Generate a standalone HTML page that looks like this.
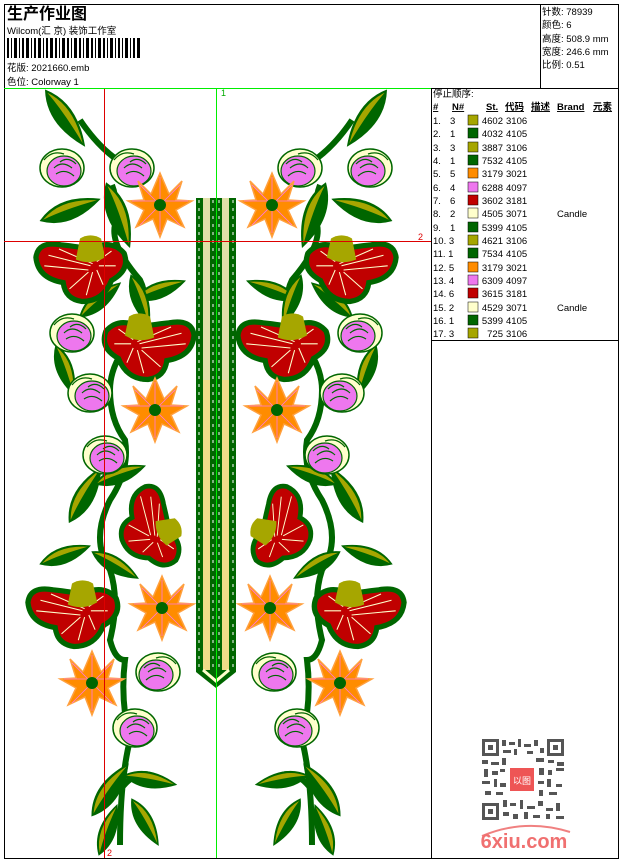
<!DOCTYPE html>
<html><head><meta charset="utf-8"><style>
body{margin:0;background:#fff;width:620px;height:860px;overflow:hidden;font-family:"Liberation Sans","Noto Sans CJK SC",sans-serif;}
</style></head><body>
<svg width="620" height="860" viewBox="0 0 620 860" xmlns="http://www.w3.org/2000/svg" font-family="Liberation Sans, Noto Sans CJK SC, sans-serif">
<defs>
<g id="rose">
 <ellipse cx="0" cy="0" rx="22" ry="19" fill="#ffffcc" stroke="#006600" stroke-width="1.5"/>
 <ellipse cx="2" cy="3" rx="17" ry="15" fill="#ee77ee" stroke="#006600" stroke-width="1.2"/>
 <path d="M-8,0 Q0,-8 10,0 M-6,6 Q3,0 12,8 M-2,-6 Q6,-12 14,-4 M-18,-8 Q-10,-18 2,-14" fill="none" stroke="#006600" stroke-width="1.2"/>
</g>
<g id="star">
 <polygon points="0,-32 9,-11 22,-24 16,-5 32,-4 16,5 24,22 7,14 0,32 -7,14 -24,22 -16,5 -32,-4 -16,-5 -22,-24 -9,-11" fill="#ff8c00" stroke="#ffa040" stroke-width="1.5"/>
 <circle r="14" fill="#ff8c00"/>
 <path d="M0,-28 L0,28 M-28,-4 L28,-4 M-20,-20 L20,20 M20,-20 L-20,20" stroke="#ff77dd" stroke-width="0.8"/>
 <circle r="6" fill="#006600"/>
</g>
<g id="redf">
 <path d="M-42,-12 Q-40,-28 -18,-24 Q0,-22 10,-20 Q30,-30 42,-16 Q48,0 30,10 Q22,30 2,30 Q-14,28 -16,12 Q-40,8 -42,-12 Z" fill="#c00000" stroke="#006600" stroke-width="5"/>
 <path d="M-30,-14 L10,-4 M-20,-20 L12,-6 M-34,-4 L8,0 M-10,18 L8,2 M6,24 L12,2 M22,14 L16,0 M34,-4 L18,-4 M30,-18 L16,-8" stroke="#ffffcc" stroke-width="1"/>
 <path d="M0,-30 Q10,-36 20,-30 L24,-12 Q10,-4 -4,-10 Z" fill="#a6a600"/>
</g>
<g id="leaf">
 <path d="M-24,0 Q-4,-14 24,0 Q-4,14 -24,0 Z" fill="#006600" stroke="#006600"/>
 <path d="M-22,0 Q-4,-11 22,0 Q-4,-2 -22,0 Z" fill="#a6a600"/>
</g>
<g id="half">
 <path d="M80,120 Q100,150 125,165 M112,185 Q118,200 115,225 Q110,245 140,280 Q150,300 140,330 M140,330 Q110,360 110,390 Q110,420 125,440 Q130,470 110,500 Q90,540 110,570 Q120,600 110,640 Q115,660 125,660 Q120,700 130,740 Q120,780 120,845 M120,790 Q135,770 150,775" fill="none" stroke="#006600" stroke-width="6"/>
 <use href="#leaf" transform="translate(65,118) rotate(55) scale(1.4,1.3)"/>
 <use href="#leaf" transform="translate(70,210) rotate(-20) scale(1.3)"/>
 <use href="#leaf" transform="translate(118,215) rotate(70) scale(1.4)"/>
 <use href="#leaf" transform="translate(160,290) rotate(-20) scale(1.1)"/>
 <use href="#leaf" transform="translate(140,300) rotate(70) scale(1.1)"/>
 <use href="#leaf" transform="translate(100,300) rotate(-40) scale(1.1)"/>
 <use href="#leaf" transform="translate(65,370) rotate(70) scale(1.1)"/>
 <use href="#leaf" transform="translate(85,495) rotate(-60) scale(1.3)"/>
 <use href="#leaf" transform="translate(120,475) rotate(-20) scale(1.1)"/>
 <use href="#leaf" transform="translate(65,555) rotate(-20) scale(1.1)"/>
 <use href="#leaf" transform="translate(115,565) rotate(30) scale(1.1)"/>
 <use href="#leaf" transform="translate(110,790) rotate(-55) scale(1.3)"/>
 <use href="#leaf" transform="translate(150,780) rotate(10) scale(1.1)"/>
 <use href="#leaf" transform="translate(145,822) rotate(60) scale(1.1)"/>
 <use href="#leaf" transform="translate(108,830) rotate(-70) scale(1.1)"/>
 <use href="#rose" transform="translate(62,168)"/>
 <use href="#rose" transform="translate(132,168)"/>
 <use href="#star" transform="translate(160,205)"/>
 <use href="#redf" transform="translate(80,270) scale(1.05)"/>
 <use href="#rose" transform="translate(72,333)"/>
 <use href="#redf" transform="translate(150,348) scale(-1.05,1.05)"/>
 <use href="#rose" transform="translate(90,393)"/>
 <use href="#star" transform="translate(155,410)"/>
 <use href="#rose" transform="translate(105,455)"/>
 <use href="#redf" transform="translate(148,528) rotate(70) scale(0.95)"/>
 <use href="#redf" transform="translate(72,615) scale(1.05)"/>
 <use href="#star" transform="translate(162,608)"/>
 <use href="#star" transform="translate(92,683)"/>
 <use href="#rose" transform="translate(158,672) scale(-1,1)"/>
 <use href="#rose" transform="translate(135,728)"/>
</g>
</defs>
<rect x="4.5" y="4.5" width="614" height="854" fill="none" stroke="#000"/>
<line x1="4" y1="88.5" x2="619" y2="88.5" stroke="#000"/>
<line x1="540.5" y1="4" x2="540.5" y2="88" stroke="#000"/>
<line x1="431.5" y1="88" x2="431.5" y2="858" stroke="#000"/>
<line x1="432" y1="340.5" x2="619" y2="340.5" stroke="#000"/>
<text x="7" y="19" font-size="16" font-weight="bold">生产作业图</text>
<text x="7" y="34" font-size="9.5">Wilcom(汇 京) 装饰工作室</text>
<g fill="#000">
<rect x="7" y="38" width="2" height="20"/><rect x="11" y="38" width="1" height="20"/><rect x="14" y="38" width="3" height="20"/><rect x="19" y="38" width="1" height="20"/><rect x="22" y="38" width="2" height="20"/><rect x="26" y="38" width="3" height="20"/><rect x="31" y="38" width="1" height="20"/><rect x="34" y="38" width="2" height="20"/><rect x="38" y="38" width="3" height="20"/><rect x="43" y="38" width="1" height="20"/><rect x="46" y="38" width="2" height="20"/><rect x="50" y="38" width="3" height="20"/><rect x="55" y="38" width="2" height="20"/><rect x="59" y="38" width="1" height="20"/><rect x="62" y="38" width="3" height="20"/><rect x="67" y="38" width="2" height="20"/><rect x="71" y="38" width="1" height="20"/><rect x="74" y="38" width="3" height="20"/><rect x="79" y="38" width="2" height="20"/><rect x="83" y="38" width="1" height="20"/><rect x="86" y="38" width="3" height="20"/><rect x="91" y="38" width="2" height="20"/><rect x="95" y="38" width="1" height="20"/><rect x="98" y="38" width="3" height="20"/><rect x="103" y="38" width="2" height="20"/><rect x="107" y="38" width="1" height="20"/><rect x="110" y="38" width="3" height="20"/><rect x="115" y="38" width="1" height="20"/><rect x="118" y="38" width="2" height="20"/><rect x="122" y="38" width="1" height="20"/><rect x="125" y="38" width="3" height="20"/><rect x="130" y="38" width="1" height="20"/><rect x="133" y="38" width="2" height="20"/><rect x="137" y="38" width="3" height="20"/>
</g>
<text x="7" y="71" font-size="9.5">花版: 2021660.emb</text>
<text x="7" y="85" font-size="9.5">色位:  Colorway 1</text>
<g font-size="9.5">
<text x="542" y="15">针数: 78939</text>
<text x="542" y="28">颜色: 6</text>
<text x="542" y="42">高度: 508.9 mm</text>
<text x="542" y="55">宽度: 246.6 mm</text>
<text x="542" y="68">比例: 0.51</text>
</g>
<use href="#half"/>
<use href="#half" transform="translate(432,0) scale(-1,1)"/>
<path d="M196,198 H236 V672 L216,688 L196,672 Z" fill="#006600"/>
<rect x="203" y="198" width="7" height="470" fill="#e0e0a8"/>
<rect x="222" y="198" width="7" height="470" fill="#e0e0a8"/>
<rect x="203" y="380" width="7" height="290" fill="#eedd88"/>
<rect x="222" y="380" width="7" height="290" fill="#eedd88"/>
<path d="M199,200 V668 M233,200 V668 M213,200 V668 M219,200 V668" stroke="#fff" stroke-width="1" stroke-dasharray="3,5"/>
<path d="M203,670 L216,681 L229,670" fill="none" stroke="#ffffcc" stroke-width="3"/>
<line x1="4" y1="88.5" x2="431" y2="88.5" stroke="#00ee00"/>
<line x1="216.5" y1="88" x2="216.5" y2="858" stroke="#00ee00"/>
<line x1="104.5" y1="89" x2="104.5" y2="858" stroke="#dd0000"/>
<line x1="4" y1="241.5" x2="431" y2="241.5" stroke="#dd0000"/>
<text x="221" y="96" font-size="9" fill="#00aa00">1</text>
<text x="418" y="240" font-size="9" fill="#dd0000">2</text>
<text x="107" y="856" font-size="9" fill="#dd0000">2</text>
<g font-size="9.5">
<text x="433" y="97">停止顺序:</text>
<g font-weight="bold" text-decoration="underline">
<text x="433" y="110">#</text><text x="452" y="110">N#</text><text x="486" y="110">St.</text><text x="505" y="110">代码</text><text x="531" y="110">描述</text><text x="557" y="110">Brand</text><text x="593" y="110">元素</text>
</g>
</g>
<g font-size="9.5">
<text x="433" y="124">1.</text><text x="450" y="124">3</text><rect x="468" y="115" width="10" height="10" fill="#a6a600" stroke="#000" stroke-width=".5"/><text x="503" y="124" text-anchor="end">4602</text><text x="506" y="124">3106</text>
<text x="433" y="137">2.</text><text x="450" y="137">1</text><rect x="468" y="128" width="10" height="10" fill="#006600" stroke="#000" stroke-width=".5"/><text x="503" y="137" text-anchor="end">4032</text><text x="506" y="137">4105</text>
<text x="433" y="151">3.</text><text x="450" y="151">3</text><rect x="468" y="142" width="10" height="10" fill="#a6a600" stroke="#000" stroke-width=".5"/><text x="503" y="151" text-anchor="end">3887</text><text x="506" y="151">3106</text>
<text x="433" y="164">4.</text><text x="450" y="164">1</text><rect x="468" y="155" width="10" height="10" fill="#006600" stroke="#000" stroke-width=".5"/><text x="503" y="164" text-anchor="end">7532</text><text x="506" y="164">4105</text>
<text x="433" y="177">5.</text><text x="450" y="177">5</text><rect x="468" y="168" width="10" height="10" fill="#ff8c00" stroke="#000" stroke-width=".5"/><text x="503" y="177" text-anchor="end">3179</text><text x="506" y="177">3021</text>
<text x="433" y="191">6.</text><text x="450" y="191">4</text><rect x="468" y="182" width="10" height="10" fill="#ee77ee" stroke="#000" stroke-width=".5"/><text x="503" y="191" text-anchor="end">6288</text><text x="506" y="191">4097</text>
<text x="433" y="204">7.</text><text x="450" y="204">6</text><rect x="468" y="195" width="10" height="10" fill="#c00000" stroke="#000" stroke-width=".5"/><text x="503" y="204" text-anchor="end">3602</text><text x="506" y="204">3181</text>
<text x="433" y="217">8.</text><text x="450" y="217">2</text><rect x="468" y="208" width="10" height="10" fill="#ffffcc" stroke="#000" stroke-width=".5"/><text x="503" y="217" text-anchor="end">4505</text><text x="506" y="217">3071</text><text x="557" y="217">Candle</text>
<text x="433" y="231">9.</text><text x="450" y="231">1</text><rect x="468" y="222" width="10" height="10" fill="#006600" stroke="#000" stroke-width=".5"/><text x="503" y="231" text-anchor="end">5399</text><text x="506" y="231">4105</text>
<text x="433" y="244">10. 3</text><rect x="468" y="235" width="10" height="10" fill="#a6a600" stroke="#000" stroke-width=".5"/><text x="503" y="244" text-anchor="end">4621</text><text x="506" y="244">3106</text>
<text x="433" y="257">11. 1</text><rect x="468" y="248" width="10" height="10" fill="#006600" stroke="#000" stroke-width=".5"/><text x="503" y="257" text-anchor="end">7534</text><text x="506" y="257">4105</text>
<text x="433" y="271">12. 5</text><rect x="468" y="262" width="10" height="10" fill="#ff8c00" stroke="#000" stroke-width=".5"/><text x="503" y="271" text-anchor="end">3179</text><text x="506" y="271">3021</text>
<text x="433" y="284">13. 4</text><rect x="468" y="275" width="10" height="10" fill="#ee77ee" stroke="#000" stroke-width=".5"/><text x="503" y="284" text-anchor="end">6309</text><text x="506" y="284">4097</text>
<text x="433" y="297">14. 6</text><rect x="468" y="288" width="10" height="10" fill="#c00000" stroke="#000" stroke-width=".5"/><text x="503" y="297" text-anchor="end">3615</text><text x="506" y="297">3181</text>
<text x="433" y="311">15. 2</text><rect x="468" y="302" width="10" height="10" fill="#ffffcc" stroke="#000" stroke-width=".5"/><text x="503" y="311" text-anchor="end">4529</text><text x="506" y="311">3071</text><text x="557" y="311">Candle</text>
<text x="433" y="324">16. 1</text><rect x="468" y="315" width="10" height="10" fill="#006600" stroke="#000" stroke-width=".5"/><text x="503" y="324" text-anchor="end">5399</text><text x="506" y="324">4105</text>
<text x="433" y="337">17. 3</text><rect x="468" y="328" width="10" height="10" fill="#a6a600" stroke="#000" stroke-width=".5"/><text x="503" y="337" text-anchor="end">725</text><text x="506" y="337">3106</text>
</g>
<g fill="#555">
<rect x="482" y="739" width="17" height="17"/><rect x="547" y="739" width="17" height="17"/><rect x="482" y="803" width="17" height="17"/>
</g>
<g fill="#fff"><rect x="485" y="742" width="11" height="11"/><rect x="550" y="742" width="11" height="11"/><rect x="485" y="806" width="11" height="11"/></g>
<g fill="#555"><rect x="488" y="745" width="5" height="5"/><rect x="553" y="745" width="5" height="5"/><rect x="488" y="809" width="5" height="5"/></g>
<g fill="#555">
<rect x="502" y="740" width="4" height="6"/><rect x="509" y="742" width="6" height="3"/><rect x="518" y="739" width="3" height="8"/><rect x="524" y="744" width="7" height="3"/><rect x="534" y="740" width="4" height="6"/><rect x="540" y="748" width="4" height="5"/>
<rect x="503" y="750" width="8" height="3"/><rect x="514" y="749" width="3" height="6"/><rect x="527" y="751" width="6" height="3"/>
<rect x="482" y="760" width="6" height="4"/><rect x="491" y="762" width="8" height="3"/><rect x="502" y="758" width="4" height="7"/><rect x="536" y="758" width="8" height="4"/><rect x="548" y="760" width="6" height="3"/><rect x="557" y="762" width="7" height="4"/>
<rect x="484" y="769" width="4" height="8"/><rect x="492" y="771" width="6" height="4"/><rect x="500" y="769" width="5" height="3"/><rect x="539" y="768" width="5" height="7"/><rect x="548" y="770" width="4" height="5"/><rect x="556" y="768" width="8" height="3"/>
<rect x="482" y="781" width="8" height="3"/><rect x="494" y="779" width="3" height="8"/><rect x="500" y="783" width="6" height="4"/><rect x="538" y="781" width="6" height="3"/><rect x="547" y="779" width="4" height="8"/><rect x="556" y="784" width="6" height="3"/>
<rect x="485" y="791" width="6" height="4"/><rect x="496" y="792" width="7" height="3"/><rect x="539" y="790" width="4" height="6"/><rect x="549" y="792" width="8" height="3"/>
<rect x="503" y="800" width="4" height="7"/><rect x="510" y="803" width="6" height="3"/><rect x="520" y="800" width="3" height="9"/><rect x="527" y="806" width="8" height="3"/><rect x="538" y="801" width="5" height="5"/><rect x="546" y="808" width="7" height="3"/><rect x="556" y="803" width="4" height="8"/>
<rect x="503" y="812" width="6" height="4"/><rect x="513" y="814" width="5" height="5"/><rect x="524" y="812" width="4" height="7"/><rect x="533" y="815" width="7" height="3"/><rect x="546" y="814" width="4" height="5"/><rect x="556" y="816" width="8" height="3"/>
</g>
<rect x="510" y="768" width="24" height="23" fill="#ee5555"/>
<text x="522" y="784" font-size="9" fill="#fff" text-anchor="middle">以图</text>
<path d="M482,836 Q525,818 570,832" fill="none" stroke="#f08080" stroke-width="2"/>
<text x="524" y="848" font-size="20" font-weight="bold" fill="#f07070" text-anchor="middle">6xiu.com</text>
</svg>
</body></html>
